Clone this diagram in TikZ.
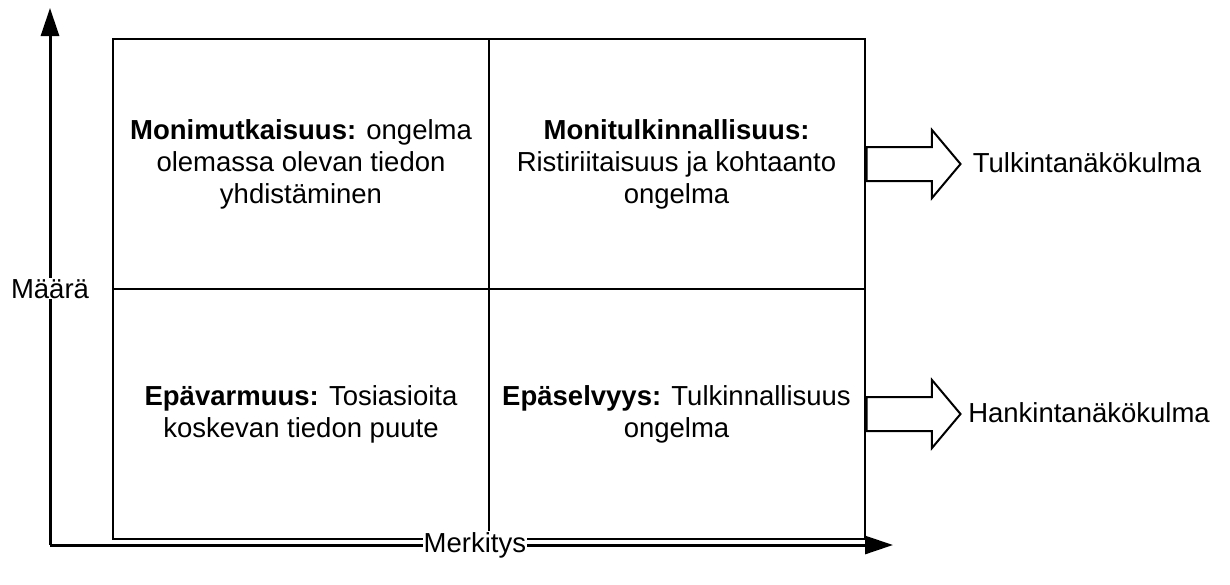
\documentclass[tikz,border=0pt]{standalone}
\usepackage{fontspec}
\setmainfont{Liberation Sans}
\usetikzlibrary{shapes.arrows, arrows.meta}
\tikzset{
  cell/.style={
    rectangle,
    draw=black,
    line width=2pt,
    minimum width=376pt,
    minimum height=250pt,
    inner sep=0pt,
    align=center,
    font=\fontsize{27.5}{32}\selectfont
  },
  bigarrow/.style={
    single arrow,
    draw=black,
    line width=2pt,
    minimum height=94pt,
    inner xsep=0pt,
    inner ysep=16pt,
    single arrow head extend=17pt,
    single arrow tip angle=100,
    anchor=west
  },
  view/.style={font=\fontsize{27.5}{32}\selectfont},
  axislabel/.style={fill=white, inner sep=1pt, font=\fontsize{27.5}{32}\selectfont}
}
\tikzstyle{axis} = [line width=3pt, -{Triangle[length=28pt, width=18pt]}]
\def\term#1{\textbf{#1}}

\begin{document}
\begin{tikzpicture}[x=1pt, y=-1pt]
    \useasboundingbox (0,0) rectangle (1230,584);
    \node[cell] (c1) at (301, 164) {\term{Monimutkaisuus:} ongelma\\olemassa olevan tiedon\\yhdistäminen};
    \node[cell] (c2) at (676.5, 164) {\term{Monitulkinnallisuus:}\\Ristiriitaisuus ja kohtaanto\\ongelma};
    \node[cell] (c3) at (301, 414) {\term{Epävarmuus:} Tosiasioita\\koskevan tiedon puute};
    \node[cell] (c4) at (676.5, 414) {\term{Epäselvyys:} Tulkinnallisuus\\ongelma};
    \node[bigarrow] (a1) at (c2.east) {};
    \node[bigarrow] (a2) at (c4.east) {};
    \node[view] (v1) at (1087, 163) {Tulkintanäkökulma};
    \node[view] (v2) at (1089, 413) {Hankintanäkökulma};
    \coordinate (o) at (50, 545);
    \coordinate (ytop) at (50, 8);
    \coordinate (xend) at (893, 545);
    \draw[axis] (o) -- node[axislabel, pos=0.477] (ylab) {Määrä} (ytop);
    \draw[axis] (o) -- node[axislabel, pos=0.504] (xlab) {Merkitys} (xend);
\end{tikzpicture}
\end{document}
